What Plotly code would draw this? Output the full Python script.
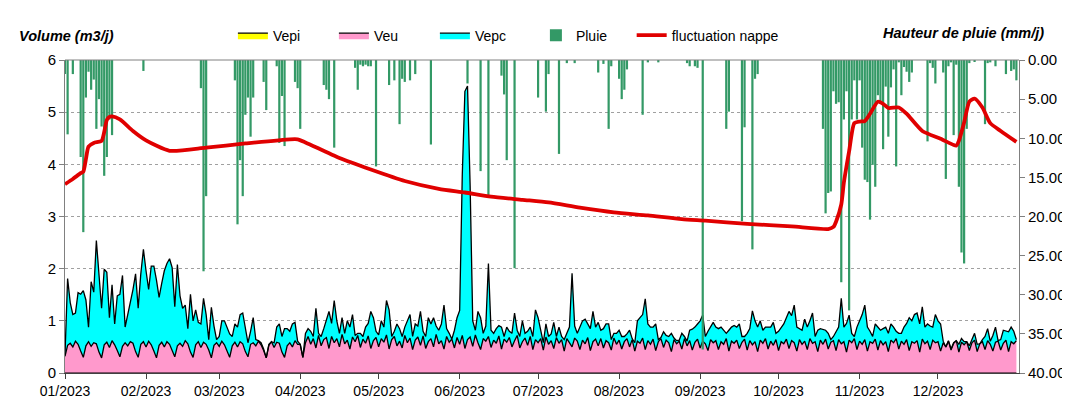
import plotly.graph_objects as go
import pandas as pd

# ---------------- DATA ----------------
# daily values, 01/01/2023 -> 31/12/2023
vepi = [0.0] * 365  # Vepi is zero over the whole year

veu = [
    # Jan
    0.32, 0.53, 0.57, 0.50, 0.61, 0.55, 0.42, 0.30, 0.52, 0.60, 0.51, 0.58, 0.56, 0.40, 0.29, 0.54,
    0.59, 0.49, 0.62, 0.54, 0.43, 0.31, 0.51, 0.58, 0.52, 0.60, 0.57, 0.41, 0.30, 0.55, 0.60,
    # Feb
    0.50, 0.61, 0.54, 0.42, 0.29, 0.53, 0.59, 0.50, 0.60, 0.55, 0.43, 0.31, 0.52, 0.57, 0.51, 0.62,
    0.56, 0.40, 0.30, 0.54, 0.60, 0.49, 0.59, 0.55, 0.44, 0.29, 0.53, 0.58,
    # Mar
    0.51, 0.61, 0.54, 0.42, 0.30, 0.52, 0.59, 0.50, 0.60, 0.56, 0.41, 0.31, 0.55, 0.58, 0.52, 0.61,
    0.54, 0.43, 0.29, 0.53, 0.60, 0.49, 0.59, 0.57, 0.40, 0.30, 0.52, 0.58, 0.50, 0.62, 0.55,
    # Apr
    0.55, 0.30, 0.58, 0.70, 0.55, 0.66, 0.48, 0.72, 0.52, 0.64, 0.68, 0.47, 0.70, 0.58, 0.66,
    0.50, 0.74, 0.56, 0.63, 0.46, 0.69, 0.60, 0.72, 0.49, 0.65, 0.57, 0.71, 0.47, 0.62, 0.68,
    # May
    0.50, 0.66, 0.59, 0.73, 0.46, 0.64, 0.70, 0.52, 0.61, 0.48, 0.72, 0.58, 0.67, 0.45, 0.63, 0.69,
    0.53, 0.71, 0.47, 0.60, 0.66, 0.50, 0.74, 0.56, 0.62, 0.46, 0.70, 0.59, 0.65, 0.48, 0.68,
    # Jun
    0.55, 0.72, 0.47, 0.64, 0.69, 0.51, 0.73, 0.58, 0.45, 0.66, 0.61, 0.70, 0.49, 0.63, 0.57,
    0.71, 0.46, 0.65, 0.59, 0.68, 0.50, 0.62, 0.72, 0.48, 0.60, 0.67, 0.53, 0.70, 0.45, 0.64,
    # Jul
    0.58, 0.66, 0.44, 0.69, 0.55, 0.62, 0.47, 0.68, 0.57, 0.64, 0.42, 0.66, 0.59, 0.50, 0.67, 0.61,
    0.45, 0.63, 0.56, 0.68, 0.43, 0.60, 0.65, 0.52, 0.66, 0.48, 0.62, 0.58, 0.44, 0.67, 0.55,
    # Aug
    0.63, 0.46, 0.60, 0.66, 0.50, 0.64, 0.42, 0.61, 0.57, 0.67, 0.45, 0.62, 0.55, 0.65, 0.43, 0.60,
    0.66, 0.49, 0.63, 0.58, 0.41, 0.64, 0.56, 0.61, 0.46, 0.66, 0.52, 0.62, 0.44, 0.59, 0.65,
    # Sep
    0.48, 0.61, 0.56, 0.43, 0.64, 0.58, 0.62, 0.45, 0.60, 0.55, 0.66, 0.42, 0.61, 0.57, 0.63,
    0.47, 0.59, 0.65, 0.44, 0.62, 0.54, 0.60, 0.41, 0.63, 0.57, 0.66, 0.46, 0.61, 0.53, 0.64,
    # Oct
    0.43, 0.60, 0.56, 0.65, 0.47, 0.62, 0.58, 0.42, 0.64, 0.55, 0.61, 0.45, 0.66, 0.57, 0.60, 0.41,
    0.63, 0.55, 0.65, 0.46, 0.59, 0.62, 0.43, 0.64, 0.56, 0.60, 0.40, 0.63, 0.58, 0.66, 0.45,
    # Nov
    0.61, 0.55, 0.64, 0.42, 0.60, 0.57, 0.65, 0.44, 0.62, 0.54, 0.60, 0.41, 0.63, 0.58, 0.66,
    0.46, 0.61, 0.55, 0.64, 0.43, 0.60, 0.57, 0.62, 0.40, 0.65, 0.56, 0.61, 0.45, 0.63, 0.58,
    # Dec
    0.60, 0.42, 0.58, 0.50, 0.61, 0.44, 0.57, 0.62, 0.40, 0.59, 0.54, 0.60, 0.43, 0.58, 0.63, 0.41,
    0.56, 0.60, 0.45, 0.62, 0.55, 0.42, 0.59, 0.61, 0.44, 0.57, 0.63, 0.41, 0.60, 0.56, 0.62,
]

vepc = [
    # Jan
    0.03, 1.28, 0.78, 0.62, 0.54, 0.99, 1.09, 1.28, 0.88, 0.28, 1.24, 0.97, 1.98, 1.50, 0.95, 1.45,
    1.34, 0.57, 1.07, 0.40, 1.05, 1.20, 1.36, 0.30, 0.58, 0.75, 1.03, 1.49, 0.94, 1.35, 1.77,
    # Feb
    1.46, 0.99, 1.51, 1.63, 1.49, 0.92, 1.13, 1.46, 1.50, 1.64, 1.59, 0.96, 1.56, 0.91, 0.73, 0.68,
    0.29, 1.11, 0.70, 0.67, 0.37, 0.45, 0.84, 0.57, 0.20, 0.97, 0.37, 0.06,
    # Mar
    0.19, 0.39, 0.46, 0.46, 0.45, 0.18, 0.35, 0.38, 0.52, 0.59, 0.41, 0.27, 0.25, 0.48, 0.12, 0.01,
    0.04, 0.03, 0.00, 0.02, 0.00, 0.09, 0.29, 0.37, 0.30, 0.55, 0.33, 0.22, 0.44, 0.35, 0.06,
    # Apr
    0.00, 0.00, 0.18, 0.15, 0.25, 0.04, 0.76, 0.04, 0.18, 0.21, 0.32, 0.71, 0.25, 0.81, 0.34,
    0.26, 0.32, 0.20, 0.37, 0.42, 0.43, 0.12, 0.04, 0.27, 0.05, 0.31, 0.24, 0.71, 0.44, 0.12,
    # May
    0.23, 0.34, 0.29, 0.66, 0.75, 0.06, 0.10, 0.42, 0.24, 0.22, 0.16, 0.42, 0.45, 0.25, 0.31, 0.21,
    0.65, 0.09, 0.23, 0.46, 0.28, 0.56, 0.16, 0.26, 0.32, 0.84, 0.15, 0.17, 0.00, 0.34, 0.38,
    # Jun
    0.65, 3.08, 4.93, 4.86, 2.91, 0.49, 0.09, 0.60, 0.61, 0.10, 0.29, 1.40, 0.33, 0.13, 0.28,
    0.20, 0.42, 0.05, 0.29, 0.12, 0.26, 0.53, 0.10, 0.22, 0.40, 0.09, 0.27, 0.18, 0.25, 0.57,
    # Jul
    0.48, 0.14, 0.14, 0.25, 0.15, 0.13, 0.50, 0.02, 0.31, 0.06, 0.22, 0.10, 0.29, 1.41, 0.23, 0.15,
    0.43, 0.37, 0.47, 0.26, 0.42, 0.58, 0.23, 0.45, 0.16, 0.37, 0.32, 0.36, 0.20, 0.09, 0.21,
    # Aug
    0.19, 0.24, 0.10, 0.09, 0.32, 0.02, 0.16, 0.39, 0.49, 0.45, 0.97, 0.32, 0.33, 0.23, 0.51, 0.04,
    0.02, 0.30, 0.09, 0.12, 0.35, 0.03, 0.06, 0.02, 0.30, 0.04, 0.09, 0.20, 0.40, 0.29, 0.29,
    # Sep
    0.52, 0.50, 0.14, 0.37, 0.24, 0.39, 0.26, 0.40, 0.28, 0.27, 0.10, 0.40, 0.27, 0.34, 0.25,
    0.47, 0.11, 0.05, 0.32, 0.23, 0.65, 0.40, 0.47, 0.37, 0.25, 0.22, 0.42, 0.27, 0.44, 0.12,
    # Oct
    0.37, 0.28, 0.38, 0.41, 0.71, 0.48, 0.72, 0.46, 0.21, 0.27, 0.42, 0.43, 0.34, 0.58, 0.10, 0.41,
    0.22, 0.29, 0.17, 0.30, 0.05, 0.08, 0.35, 0.24, 0.87, 0.28, 0.55, 0.48, 0.18, 0.04, 0.43,
    # Nov
    0.39, 0.57, 0.66, 0.46, 0.20, 0.13, 0.29, 0.44, 0.20, 0.31, 0.28, 0.35, 0.31, 0.30, 0.14,
    0.30, 0.15, 0.33, 0.31, 0.63, 0.40, 0.55, 0.53, 0.54, 0.62, 0.32, 0.33, 0.45, 0.25, 0.54,
    # Dec
    0.40, 0.52, 0.03, 0.00, 0.01, 0.02, 0.01, 0.00, 0.15, 0.07, 0.06, 0.00, 0.09, 0.06, 0.13, 0.14,
    0.00, 0.04, 0.25, 0.23, 0.06, 0.30, 0.29, 0.01, 0.20, 0.25, 0.17, 0.38, 0.28, 0.24, 0.02,
]

rain_dates = [
    "2023-01-01", "2023-01-02", "2023-01-04", "2023-01-07", "2023-01-08", "2023-01-09", "2023-01-10",
    "2023-01-11", "2023-01-12", "2023-01-13", "2023-01-14", "2023-01-15", "2023-01-16", "2023-01-17",
    "2023-01-18", "2023-01-19", "2023-01-31", "2023-02-22", "2023-02-23", "2023-02-24",
    "2023-03-07", "2023-03-08", "2023-03-09", "2023-03-10", "2023-03-11", "2023-03-12", "2023-03-13",
    "2023-03-14", "2023-03-18", "2023-03-19", "2023-03-23", "2023-03-24", "2023-03-25", "2023-03-26",
    "2023-03-30", "2023-03-31", "2023-04-01", "2023-04-10", "2023-04-11", "2023-04-12", "2023-04-14",
    "2023-04-22", "2023-04-23", "2023-04-24", "2023-04-25", "2023-04-26", "2023-04-27", "2023-04-28",
    "2023-04-30", "2023-05-05", "2023-05-07", "2023-05-09", "2023-05-10", "2023-05-11", "2023-05-13",
    "2023-05-15", "2023-05-21", "2023-06-04", "2023-06-09", "2023-06-12", "2023-06-17", "2023-06-18",
    "2023-06-19", "2023-06-22", "2023-07-01", "2023-07-04", "2023-07-05", "2023-07-09", "2023-07-12",
    "2023-07-15", "2023-07-24", "2023-07-26", "2023-07-28", "2023-07-29", "2023-08-01", "2023-08-02",
    "2023-08-03", "2023-08-04", "2023-08-10", "2023-08-12", "2023-08-16", "2023-08-27", "2023-08-28",
    "2023-08-30", "2023-08-31", "2023-09-02", "2023-09-11", "2023-09-12", "2023-09-17", "2023-09-18",
    "2023-09-21", "2023-09-22", "2023-09-23", "2023-10-18", "2023-10-19", "2023-10-20", "2023-10-21",
    "2023-10-22", "2023-10-23", "2023-10-24", "2023-10-25", "2023-10-26", "2023-10-27", "2023-10-28",
    "2023-10-29", "2023-10-30", "2023-10-31", "2023-11-01", "2023-11-02", "2023-11-03", "2023-11-04",
    "2023-11-05", "2023-11-06", "2023-11-07", "2023-11-08", "2023-11-09", "2023-11-10", "2023-11-11",
    "2023-11-12", "2023-11-13", "2023-11-14", "2023-11-15", "2023-11-16", "2023-11-17", "2023-11-18",
    "2023-11-19", "2023-11-20", "2023-11-21", "2023-11-27", "2023-11-28", "2023-11-29", "2023-11-30",
    "2023-12-03", "2023-12-04", "2023-12-05", "2023-12-06", "2023-12-07", "2023-12-08", "2023-12-09",
    "2023-12-10", "2023-12-11", "2023-12-12", "2023-12-13", "2023-12-15", "2023-12-19", "2023-12-20",
    "2023-12-21", "2023-12-23", "2023-12-27", "2023-12-29", "2023-12-30", "2023-12-31",
]
rain_mm = [
    1.8, 9.5, 1.8, 12.4, 22.0, 4.8, 1.5,
    3.8, 2.5, 8.8, 5.0, 8.5, 14.8, 12.4,
    7.6, 9.6, 1.4, 3.6, 27.0, 17.4,
    2.6, 21.0, 12.8, 17.4, 7.0, 4.8, 9.8,
    4.8, 2.8, 6.4, 0.8, 10.6, 4.6, 11.0,
    2.8, 3.6, 8.8, 3.2, 3.8, 5.0, 11.2,
    1.0, 3.8, 0.6, 0.8, 0.6, 0.8, 0.8,
    13.6, 3.2, 2.6, 8.2, 2.4, 2.8, 2.6,
    1.8, 10.8, 3.0, 14.2, 17.6, 2.0, 4.4,
    12.8, 26.6, 4.8, 6.6, 1.8, 12.0, 0.4,
    0.4, 1.6, 0.5, 8.8, 0.8, 2.4, 5.0,
    3.8, 1.2, 7.0, 0.3, 0.3, 0.4, 0.8,
    0.8, 1.0, 37.0, 8.8, 6.6, 20.6, 8.6,
    24.2, 2.4, 1.8, 8.8, 19.6, 17.0, 16.8,
    4.0, 5.6, 5.4, 28.4, 7.6, 4.0, 32.0,
    7.6, 2.6, 7.6, 2.6, 11.2, 15.3, 15.6,
    20.4, 13.4, 16.2, 4.5, 5.6, 11.4, 3.4,
    9.8, 3.5, 1.2, 13.6, 0.3, 4.5, 0.9,
    1.5, 2.8, 1.6, 10.4, 0.4, 1.0, 3.0,
    1.6, 15.2, 0.8, 0.3, 9.6, 0.6, 16.2,
    24.6, 26.0, 8.8, 0.4, 0.2, 8.2, 0.4,
    0.3, 0.8, 1.8, 1.4, 1.2, 2.6,
]

nappe_dates = [
    "2023-01-01", "2023-01-04", "2023-01-07", "2023-01-08", "2023-01-09", "2023-01-10", "2023-01-12",
    "2023-01-15", "2023-01-16", "2023-01-17", "2023-01-18", "2023-01-19", "2023-01-22", "2023-01-27",
    "2023-02-01", "2023-02-10", "2023-02-24", "2023-03-11", "2023-03-28", "2023-03-31", "2023-04-03",
    "2023-04-16", "2023-04-28", "2023-05-11", "2023-05-24", "2023-06-03", "2023-06-13", "2023-06-25",
    "2023-07-05", "2023-07-17", "2023-07-30", "2023-08-12", "2023-08-25", "2023-09-03", "2023-09-19",
    "2023-10-06", "2023-10-20", "2023-10-22", "2023-10-23", "2023-10-25", "2023-10-26", "2023-10-28",
    "2023-10-30", "2023-11-01", "2023-11-03", "2023-11-05", "2023-11-08", "2023-11-10", "2023-11-12",
    "2023-11-16", "2023-11-19", "2023-11-25", "2023-12-02", "2023-12-07", "2023-12-08", "2023-12-09",
    "2023-12-11", "2023-12-13", "2023-12-15", "2023-12-18", "2023-12-21", "2023-12-25", "2023-12-31",
]
nappe_values = [
    3.62, 3.72, 3.83, 3.86, 4.10, 4.34, 4.41,
    4.45, 4.62, 4.85, 4.91, 4.92, 4.86, 4.64,
    4.46, 4.26, 4.32, 4.40, 4.48, 4.48, 4.42,
    4.12, 3.90, 3.68, 3.53, 3.46, 3.38, 3.32,
    3.27, 3.17, 3.08, 3.02, 2.95, 2.92, 2.86,
    2.81, 2.76, 2.80, 2.90, 3.23, 3.65, 4.25,
    4.79, 4.82, 4.83, 4.97, 5.20, 5.16, 5.08,
    5.09, 4.97, 4.64, 4.49, 4.37, 4.36, 4.45,
    4.80, 5.20, 5.26, 5.09, 4.79, 4.64, 4.43,
]

month_ticks = ["2023-%02d-01" % m for m in range(1, 13)]
rain_ticks = [0, 5, 10, 15, 20, 25, 30, 35, 40]

assert len(veu) == 365 and len(vepc) == 365
assert len(rain_dates) == len(rain_mm)
assert len(nappe_dates) == len(nappe_values)

dates = pd.date_range("2023-01-01", periods=365, freq="D")

# ---------------- FIGURE ----------------
FONT = "Liberation Sans, Arial, sans-serif"
fig = go.Figure()

fig.add_trace(go.Scatter(x=dates, y=vepi, name="Vepi", stackgroup="v", mode="lines",
                         line=dict(color="black", width=1.2), fillcolor="#ffff00",
                         hoverinfo="skip"))
fig.add_trace(go.Scatter(x=dates, y=veu, name="Veu", stackgroup="v", mode="lines",
                         line=dict(color="black", width=1.3), fillcolor="#ff99cc",
                         hoverinfo="skip"))
fig.add_trace(go.Scatter(x=dates, y=vepc, name="Vepc", stackgroup="v", mode="lines",
                         line=dict(color="black", width=1.3), fillcolor="#00ffff",
                         hoverinfo="skip"))
fig.add_trace(go.Bar(x=rain_dates, y=rain_mm, name="Pluie", yaxis="y2",
                     marker=dict(color="#339966", line=dict(width=0)), hoverinfo="skip"))
fig.add_trace(go.Scatter(x=nappe_dates, y=nappe_values, name="fluctuation nappe", yaxis="y3",
                         legend="legend2", mode="lines",
                         line=dict(color="#e00000", width=3.8, shape="spline", smoothing=0.6),
                         hoverinfo="skip"))

fig.update_layout(
    width=1070, height=403,
    margin=dict(l=57, r=57, t=41, b=29),
    paper_bgcolor="white", plot_bgcolor="white",
    font=dict(family=FONT, size=14, color="black"),
    bargap=0.15,
    showlegend=True,
    legend=dict(orientation="h", x=0.176, xanchor="left", y=1.078, yanchor="middle",
                traceorder="normal", font=dict(size=14), bgcolor="rgba(0,0,0,0)",
                entrywidth=56, entrywidthmode="pixels"),
    legend2=dict(orientation="h", x=0.594, xanchor="left", y=1.078, yanchor="middle",
                 font=dict(size=14), bgcolor="rgba(0,0,0,0)"),
    xaxis=dict(type="date", range=["2023-01-01", "2024-01-01"], tickvals=month_ticks,
               tickformat="%m/%Y", ticks="outside", ticklen=5, tickcolor="#404040",
               showline=True, linecolor="#404040", linewidth=1, showgrid=False,
               tickfont=dict(size=14)),
    yaxis=dict(range=[0, 6], dtick=1, ticks="outside", ticklen=5, tickcolor="#808080",
               showline=True, linecolor="#808080", linewidth=1,
               showgrid=True, gridcolor="#a0a0a0", griddash="dot", gridwidth=1,
               zeroline=False, tickfont=dict(size=15)),
    yaxis2=dict(overlaying="y", side="right", range=[40, 0], tickvals=rain_ticks,
                tickformat=".2f", ticks="outside", ticklen=5, tickcolor="#808080",
                showline=True, linecolor="#808080", linewidth=1, showgrid=False,
                zeroline=False, tickfont=dict(size=15)),
    yaxis3=dict(overlaying="y", range=[0, 6], visible=False),
    shapes=[dict(type="line", xref="paper", yref="paper", x0=0, x1=1, y0=1, y1=1,
                 line=dict(color="#808080", width=1))],
    annotations=[
        dict(text="<b><i>Volume (m3/j)</i></b>", xref="paper", yref="paper",
             x=-0.05, y=1.078, xanchor="left", yanchor="middle", showarrow=False,
             font=dict(size=14.5)),
        dict(text="<b><i>Hauteur de pluie (mm/j)</i></b>", xref="paper", yref="paper",
             x=1.028, y=1.087, xanchor="right", yanchor="middle", showarrow=False,
             font=dict(size=14.5)),
    ],
)

fig.write_html("out.html", config={"displayModeBar": False})
